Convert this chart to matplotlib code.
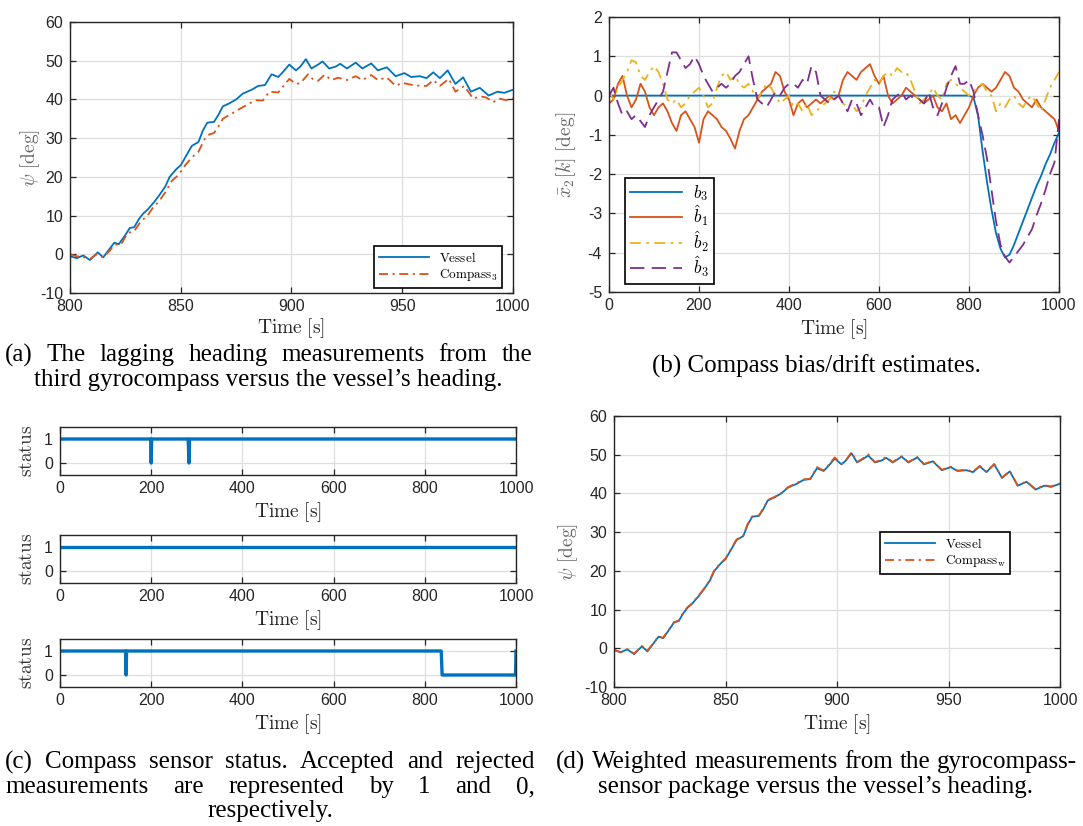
import matplotlib
matplotlib.use('Agg')
import matplotlib.pyplot as plt
import numpy as np

plt.rcParams['mathtext.fontset'] = 'cm'
plt.rcParams['font.family'] = ['Liberation Sans', 'DejaVu Sans']
plt.rcParams['axes.unicode_minus'] = False

# ---------------- data ----------------
t_vessel = [800, 803, 806, 809, 812.5, 815, 818, 820, 822, 825, 827, 829, 831, 833, 835,
            838, 840, 843, 845, 848, 850, 853, 855, 858, 860, 862, 865, 867, 869, 872,
            875, 878, 882, 885, 888, 891, 894, 896, 899, 902, 904, 906.5, 909, 912, 914,
            917, 920, 922, 925, 929, 932, 936, 939, 943, 947, 951, 954, 958, 961, 964,
            967, 970.5, 974, 977.5, 981, 985, 989, 993, 996, 1000]
vessel = [-0.5, -1.0, -0.3, -1.5, 0.5, -0.8, 1.5, 3.0, 2.6, 5.0, 6.8, 7.0, 9.0, 10.5, 11.5,
          13.5, 15.0, 17.5, 20.0, 22.0, 23.0, 26.0, 28.0, 29.0, 32.0, 34.0, 34.2, 36.0, 38.2, 39.0,
          40.0, 41.5, 42.5, 43.5, 43.7, 46.5, 45.8, 47.0, 49.0, 47.5, 48.5, 50.4, 48.0, 49.0, 49.8,
          48.0, 48.5, 49.2, 48.0, 49.5, 48.0, 49.3, 47.5, 48.3, 46.0, 46.8, 45.8, 46.0, 45.5, 47.0,
          45.5, 47.5, 44.0, 45.7, 42.0, 43.0, 41.0, 42.0, 41.7, 42.5]
compass_w = [-0.3, -1.1, -0.2, -1.4, 0.6, -0.6, 1.6, 3.1, 2.7, 5.2, 6.7, 7.1, 9.2, 10.6, 11.6,
             13.7, 15.1, 17.7, 20.2, 22.1, 23.2, 26.2, 28.1, 29.2, 32.2, 34.1, 34.3, 36.2, 38.3, 39.1,
             40.1, 41.6, 42.7, 43.6, 43.8, 46.8, 45.9, 47.2, 49.3, 47.6, 48.6, 50.6, 48.1, 49.2, 50.1,
             48.1, 48.7, 49.4, 48.1, 49.6, 48.1, 49.4, 47.6, 48.4, 46.1, 46.9, 45.9, 46.1, 45.6, 47.1,
             45.6, 47.6, 44.1, 45.8, 42.1, 43.1, 41.1, 42.1, 41.8, 42.6]

t_c3 = [800, 803, 806, 809, 812, 815, 818, 820, 823, 826, 829, 832, 835, 838, 840,
        843, 846, 849, 852, 855, 858, 861, 863, 865, 867, 869, 872, 875, 878, 881,
        884, 887, 890, 894, 899, 902, 904, 907.5, 910, 912, 915, 918, 921, 925, 929,
        932, 936, 939, 943, 947, 950, 954, 958, 961, 964, 967, 971, 974, 978, 982,
        985, 988, 991, 994, 997, 1000]
compass3 = [0.0, -0.5, -0.7, -1.2, 0.0, -0.8, 1.0, 2.5, 2.5, 5.5, 6.0, 8.5, 10.0, 12.5, 13.5,
            16.0, 19.0, 20.5, 23.0, 25.0, 26.5, 30.0, 31.0, 31.3, 33.0, 35.0, 36.0, 37.0, 38.0, 39.0,
            39.8, 39.7, 42.0, 41.8, 45.3, 44.0, 44.2, 46.5, 45.0, 44.8, 46.4, 45.0, 45.6, 45.0, 46.0,
            45.0, 46.3, 45.0, 45.7, 43.5, 44.3, 43.8, 43.5, 43.5, 45.0, 43.5, 45.3, 42.0, 43.5, 40.2,
            40.8, 40.5, 39.3, 40.2, 39.8, 40.3]

t_bias = list(range(0, 1001, 10))
b3 = [0.0] * 81 + [-0.05, -0.5, -1.4, -2.2, -2.9, -3.5, -3.9, -4.12, -4.05, -3.8,
                   -3.5, -3.2, -2.9, -2.6, -2.3, -2.05, -1.75, -1.5, -1.2, -0.95]
b1_hat = [-0.2, -0.1, 0.3, 0.5, 0.0, -0.3, -0.1, 0.3, 0.1, -0.3,
          -0.5, -0.3, -0.2, -0.4, -0.7, -0.9, -0.5, -0.4, -0.6, -0.8,
          -1.2, -0.6, -0.4, -0.5, -0.6, -0.8, -0.9, -1.1, -1.35, -0.9,
          -0.6, -0.5, -0.3, -0.1, 0.1, 0.2, 0.3, 0.6, 0.5, 0.1,
          -0.1, -0.5, -0.2, -0.1, -0.3, -0.2, -0.1, -0.2, -0.1, 0.0,
          -0.1, 0.0, 0.4, 0.6, 0.5, 0.4, 0.6, 0.7, 0.8, 0.5,
          0.3, 0.5, 0.0, -0.2, -0.1, 0.0, 0.2, 0.1, 0.0, -0.1,
          -0.2, -0.1, 0.0, -0.3, -0.4, -0.2, -0.6, -0.5, -0.7, -0.5,
          -0.3, 0.0, 0.2, 0.3, 0.2, 0.1, 0.2, 0.4, 0.6, 0.5,
          0.2, 0.1, -0.1, -0.2, -0.3, -0.1, -0.3, -0.4, -0.5, -0.6,
          -0.9]
b2_hat = [0.1, -0.1, 0.2, 0.4, 0.6, 0.9, 0.85, 0.5, 0.4, 0.6,
          0.75, 0.6, 0.3, -0.1, -0.2, -0.1, -0.3, -0.2, 0.0, 0.1,
          0.2, 0.0, -0.3, -0.2, 0.2, 0.5, 0.6, 0.4, 0.5, 0.3,
          0.2, 0.3, 0.1, -0.1, 0.1, 0.3, 0.2, 0.0, -0.2, -0.1,
          0.0, -0.3, -0.2, -0.4, -0.2, -0.5, -0.4, -0.3, -0.2, -0.1,
          0.1, 0.0, -0.2, -0.3, -0.2, -0.4, -0.3, 0.0, 0.2, 0.4,
          0.3, 0.5, 0.6, 0.5, 0.7, 0.6, 0.6, 0.4, 0.1, -0.2,
          -0.1, 0.0, 0.2, 0.0, -0.1, 0.3, 0.4, 0.3, 0.2, 0.1,
          0.0, 0.1, 0.2, 0.3, 0.1, 0.0, -0.4, -0.2, -0.3, -0.1,
          0.0, -0.2, -0.3, -0.1, 0.0, -0.2, -0.4, -0.1, 0.2, 0.4,
          0.6]
b3_hat = [0.0, 0.2, -0.2, -0.5, -0.4, -0.6, -0.5, -0.65, -0.8, -0.5,
          -0.3, -0.1, 0.1, 0.6, 1.1, 1.1, 0.9, 0.7, 0.8, 1.0,
          0.8, 0.5, 0.3, 0.1, 0.2, 0.3, 0.2, 0.3, 0.5, 0.6,
          0.8, 1.0, 0.4, -0.1, -0.2, -0.3, -0.1, 0.1, 0.0, 0.2,
          0.3, 0.3, 0.2, 0.4, 0.3, 0.75, 0.6, 0.0, -0.1, -0.2,
          -0.1, 0.0, -0.2, -0.4, -0.1, -0.2, -0.5, -0.3, -0.1, -0.3,
          -0.3, -0.8, -0.5, -0.1, 0.0, 0.1, -0.1, 0.0, -0.1, -0.1,
          -0.2, 0.1, -0.3, -0.5, -0.2, 0.2, 0.5, 0.75, 0.3, 0.3,
          0.4, 0.1, -0.5, -1.0, -1.6, -2.4, -3.2, -3.8, -4.1, -4.25,
          -4.1, -3.95, -3.8, -3.6, -3.4, -3.05, -2.75, -2.4, -2.0, -1.7,
          -0.6]

t_status1 = [0, 199, 200, 201, 281, 283, 284, 1000]
status1 = [1, 1, 0, 1, 1, 0, 1, 1]
t_status2 = [0, 1000]
status2 = [1, 1]
t_status3 = [0, 144, 145, 146, 836, 838, 999, 1000]
status3 = [1, 1, 0, 1, 1, 0, 0, 1]

BLUE, ORANGE, YELLOW, PURPLE = '#0072BD', '#D95319', '#EDB120', '#7E2F8E'
DARK = '#262626'

# ---------------- figure ----------------
W, H = 1083, 826
fig = plt.figure(figsize=(W / 100, H / 100), dpi=100)


def axes_px(l, t, r, b):
    return fig.add_axes([l / W, 1 - b / H, (r - l) / W, (b - t) / H])


def style(ax):
    ax.grid(True, color='#dedede', lw=0.9)
    ax.set_axisbelow(True)
    ax.tick_params(direction='in', top=True, right=True, length=4, width=0.9,
                   labelsize=11.5, colors=DARK)
    ax.tick_params(axis='x', pad=4)
    ax.tick_params(axis='y', pad=5)
    for s in ax.spines.values():
        s.set_color(DARK)
        s.set_linewidth(1.0)


XL = r'$\mathrm{Time\ [s]}$'
LBL = 14
DD = (0, (5, 2.5, 1.2, 2.5))

# (a)
ax = axes_px(70, 22, 513, 293)
style(ax)
ax.plot(t_vessel, vessel, color=BLUE, lw=1.3, label=r'$\mathrm{Vessel}$')
ax.plot(t_c3, compass3, color=ORANGE, lw=1.3, ls=DD, label=r'$\mathrm{Compass}_3$')
ax.set_xlim(800, 1000)
ax.set_ylim(-10, 60)
ax.set_xticks(range(800, 1001, 50))
ax.set_yticks(range(-10, 61, 10))
ax.set_xlabel(XL, fontsize=LBL, color=DARK)
ax.set_ylabel(r'$\psi\ \mathrm{[deg]}$', fontsize=LBL, color='#666666')
ax.xaxis.set_label_coords(0.5, -0.085)
ax.yaxis.set_label_coords(-0.064, 0.5)
leg = ax.legend(loc='upper left', bbox_to_anchor=(374 / W, 1 - 246 / H),
                bbox_transform=fig.transFigure, borderaxespad=0, fancybox=False,
                framealpha=1, edgecolor='black', prop={'size': 9.5},
                handlelength=3.8, labelspacing=0.2, borderpad=0.35)
leg.get_frame().set_linewidth(1.2)

# (b)
ax = axes_px(609, 17, 1059, 292)
style(ax)
ax.plot(t_bias, b3, color=BLUE, lw=1.3, label=r'$b_3$')
ax.plot(t_bias, b1_hat, color=ORANGE, lw=1.3, label=r'$\hat{b}_1$')
ax.plot(t_bias, b2_hat, color=YELLOW, lw=1.3, ls=(0, (6, 3, 1.5, 3)), label=r'$\hat{b}_2$')
ax.plot(t_bias, b3_hat, color=PURPLE, lw=1.3, ls=(0, (8, 4)), label=r'$\hat{b}_3$')
ax.set_xlim(0, 1000)
ax.set_ylim(-5, 2)
ax.set_xticks(range(0, 1001, 200))
ax.set_yticks(range(-5, 3))
ax.set_xlabel(XL, fontsize=LBL, color=DARK)
ax.set_ylabel(r'$\bar{x}_2[k]\ \mathrm{[deg]}$', fontsize=LBL, color='#666666')
ax.xaxis.set_label_coords(0.5, -0.091)
ax.yaxis.set_label_coords(-0.068, 0.5)
leg = ax.legend(loc='upper left', bbox_to_anchor=(625 / W, 1 - 178 / H),
                bbox_transform=fig.transFigure, borderaxespad=0, fancybox=False,
                framealpha=1, edgecolor='black', prop={'size': 12.5},
                handlelength=3.0, labelspacing=0.02, borderpad=0.3, handletextpad=0.6)
leg.get_frame().set_linewidth(1.2)

# (c)
for (top, bot, ts, vs) in [(427, 475, t_status1, status1),
                           (535, 583, t_status2, status2),
                           (639, 687, t_status3, status3)]:
    ax = axes_px(60, top, 516, bot)
    style(ax)
    ax.plot(ts, vs, color=BLUE, lw=2.4)
    ax.set_xlim(0, 1000)
    ax.set_ylim(-0.5, 1.5)
    ax.set_xticks(range(0, 1001, 200))
    ax.set_yticks([0, 1])
    ax.set_xlabel(XL, fontsize=LBL, color=DARK)
    ax.set_ylabel(r'$\mathrm{status}$', fontsize=LBL, color='#333333')
    ax.xaxis.set_label_coords(0.5, -0.52)
    ax.yaxis.set_label_coords(-0.052, 0.5)

# (d)
ax = axes_px(614, 416, 1060, 687)
style(ax)
ax.plot(t_vessel, vessel, color=BLUE, lw=1.3, label=r'$\mathrm{Vessel}$')
ax.plot(t_vessel, compass_w, color=ORANGE, lw=1.3, ls=DD, label=r'$\mathrm{Compass}_\mathrm{w}$')
ax.set_xlim(800, 1000)
ax.set_ylim(-10, 60)
ax.set_xticks(range(800, 1001, 50))
ax.set_yticks(range(-10, 61, 10))
ax.set_xlabel(XL, fontsize=LBL, color=DARK)
ax.set_ylabel(r'$\psi\ \mathrm{[deg]}$', fontsize=LBL, color='#666666')
ax.xaxis.set_label_coords(0.5, -0.092)
ax.yaxis.set_label_coords(-0.076, 0.5)
leg = ax.legend(loc='upper left', bbox_to_anchor=(880 / W, 1 - 532 / H),
                bbox_transform=fig.transFigure, borderaxespad=0, fancybox=False,
                framealpha=1, edgecolor='black', prop={'size': 9.5},
                handlelength=3.8, labelspacing=0.2, borderpad=0.35)
leg.get_frame().set_linewidth(1.2)

# ---------------- captions ----------------
CAP = dict(family=['Liberation Serif', 'DejaVu Serif'], size=18, color='black', va='center')
renderer = fig.canvas.get_renderer()


def justify(line, x0, x1, y):
    words = line.split(' ')
    texts = [fig.text(0, 1 - y / H, w, ha='left', **CAP) for w in words]
    widths = [t.get_window_extent(renderer).width for t in texts]
    gap = (x1 - x0 - sum(widths)) / (len(words) - 1)
    x = x0
    for t, w in zip(texts, widths):
        t.set_x(x / W)
        x += w + gap


def center(line, xc, y):
    fig.text(xc / W, 1 - y / H, line, ha='center', **CAP)


justify('(a) The lagging heading measurements from the', 5, 532, 355)
center('third gyrocompass versus the vessel\u2019s heading.', 268, 380)
center('(b) Compass bias/drift estimates.', 816, 366)
justify('(c) Compass sensor status. Accepted and rejected', 5, 535, 762)
justify('measurements are represented by 1 and 0,', 5, 535, 787)
center('respectively.', 270, 811)
justify('(d) Weighted measurements from the gyrocompass-', 556, 1077, 762)
center('sensor package versus the vessel\u2019s heading.', 816, 787)

fig.savefig('out.png', dpi=100)
